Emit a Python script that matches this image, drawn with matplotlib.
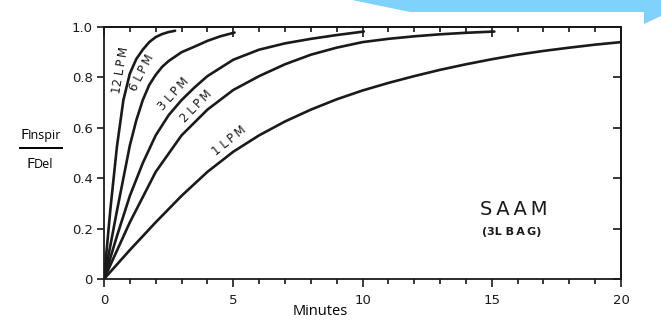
import numpy as np
import matplotlib
matplotlib.use("Agg")
import matplotlib.pyplot as plt
from matplotlib.ticker import MultipleLocator
from matplotlib.patches import Polygon
from matplotlib.lines import Line2D

# values (minutes, F_inspir / F_del)
T_12 = [0, 0.25, 0.5, 0.75, 1.0, 1.25, 1.5, 1.75, 2.0, 2.25, 2.5, 2.75]
V_12 = [0, 0.28, 0.525, 0.71, 0.815, 0.873, 0.91, 0.94, 0.96, 0.972, 0.98, 0.985]

T_6 = [0, 0.5, 1.0, 1.25, 1.5, 1.75, 2.0, 2.25, 2.5, 3.0, 3.5, 4.0, 4.5, 5.05]
V_6 = [0, 0.27, 0.53, 0.63, 0.71, 0.77, 0.81, 0.842, 0.865, 0.90, 0.922, 0.945,
       0.963, 0.978]

T_3 = [0, 0.5, 1, 1.5, 2, 2.5, 3, 3.5, 4, 5, 6, 7, 8, 9, 10.05]
V_3 = [0, 0.17, 0.33, 0.46, 0.57, 0.65, 0.71, 0.76, 0.805, 0.87, 0.91, 0.935,
       0.953, 0.968, 0.982]

T_2 = [0, 1, 2, 3, 4, 5, 6, 7, 8, 9, 10, 11, 12, 13, 14, 15.1]
V_2 = [0, 0.225, 0.425, 0.57, 0.672, 0.75, 0.805, 0.852, 0.89, 0.918, 0.94,
       0.953, 0.963, 0.971, 0.977, 0.982]

T_1 = [0, 1, 2, 3, 4, 5, 6, 7, 8, 9, 10, 11, 12, 13, 14, 15, 16, 17, 18, 19, 20]
V_1 = [0, 0.115, 0.225, 0.33, 0.425, 0.505, 0.57, 0.625, 0.672, 0.713, 0.748,
       0.778, 0.805, 0.83, 0.852, 0.872, 0.89, 0.905, 0.918, 0.93, 0.94]

SERIES = [(T_12, V_12), (T_6, V_6), (T_3, V_3), (T_2, V_2), (T_1, V_1)]

# curve labels: text, minutes, value, rotation
LABELS = [
    ("12 L\u2009P\u2009M", 0.66, 0.83, 80),
    ("6 L\u2009P\u2009M", 1.45, 0.82, 63),
    ("3 L\u2009P\u2009M", 2.68, 0.735, 48),
    ("2 L\u2009P\u2009M", 3.55, 0.685, 46),
    ("1 L\u2009P\u2009M", 4.85, 0.55, 39),
]

X_TICKS = [0, 5, 10, 15, 20]
Y_TICKS = [0, 0.2, 0.4, 0.6, 0.8, 1.0]
Y_TICKLABELS = ["0", "0.2", "0.4", "0.6", "0.8", "1.0"]

W, H = 661, 328
INK = "#1a1a1a"


def px(x, y):
    return x / W, 1 - y / H


fig = plt.figure(figsize=(W / 100, H / 100), dpi=100)

# slide template ribbon in the top right corner
ribbon = Polygon([px(352, 0), px(661, 0), px(661, 16), px(644, 24),
                  px(644, 12), px(410, 12)],
                 closed=True, transform=fig.transFigure,
                 facecolor="#7fd2fb", edgecolor="none", zorder=0)
fig.patches.append(ribbon)

ax = fig.add_axes([104 / W, 1 - 279 / H, (621 - 104) / W, (279 - 27) / H])
ax.set_xlim(0, 20)
ax.set_ylim(0, 1.0)

for t, v in SERIES:
    ax.plot(t, v, color=INK, linewidth=1.9, solid_capstyle="round",
            solid_joinstyle="round", zorder=3)

for text, t, v, rot in LABELS:
    ax.text(t, v, text, rotation=rot, rotation_mode="anchor",
            ha="center", va="center", fontsize=8.5, color=INK,
            family="DejaVu Sans")

for s in ax.spines.values():
    s.set_linewidth(1.3)
    s.set_color(INK)

ax.set_xticks(X_TICKS)
ax.set_xticklabels([str(x) for x in X_TICKS])
ax.xaxis.set_minor_locator(MultipleLocator(1))
ax.tick_params(axis="x", which="major", direction="out", length=6, width=1.2,
               pad=5, labelsize=9.5, colors=INK)
ax.tick_params(axis="x", which="minor", direction="out", length=3.6, width=1.1)

ax.set_yticks(Y_TICKS)
ax.set_yticklabels(Y_TICKLABELS)
ax.tick_params(axis="y", which="major", direction="out", length=5, width=1.2,
               pad=3, labelsize=9.5, colors=INK)

top = ax.secondary_xaxis("top")
top.set_xticks(X_TICKS)
top.xaxis.set_minor_locator(MultipleLocator(1))
top.tick_params(which="major", direction="in", length=7.5, width=1.1,
                labeltop=False)
top.tick_params(which="minor", direction="in", length=3.6, width=1.1)
top.spines["top"].set_linewidth(1.3)

right = ax.secondary_yaxis("right")
right.set_yticks(Y_TICKS)
right.tick_params(direction="in", length=5.8, width=1.1, labelright=False)
right.spines["right"].set_linewidth(1.3)

ax.text(15.86, 0.274, "S\u2009A\u2009A\u2009M", ha="center", va="center",
        fontsize=14, color=INK)
ax.text(15.78, 0.187, "(3L B\u2009A\u2009G)", ha="center", va="center",
        fontsize=8, fontweight="bold", color=INK)

# axis labels pasted over the scan
fig.text(*px(293, 315), "Minutes", fontsize=10.5, family="Open Sans",
         ha="left", va="baseline", color="black")
fig.text(*px(20, 139), "F", fontsize=11, family="Open Sans",
         ha="left", va="baseline", color="black")
fig.text(*px(28, 139), "Inspir", fontsize=9, family="Open Sans",
         ha="left", va="baseline", color="black")
fig.text(*px(26, 168), "F", fontsize=11, family="Open Sans",
         ha="left", va="baseline", color="black")
fig.text(*px(34, 168), "Del", fontsize=9, family="Open Sans",
         ha="left", va="baseline", color="black")
x0, y0 = px(20, 148)
x1, _ = px(62, 148)
fig.lines.append(Line2D([x0, x1], [y0, y0], transform=fig.transFigure,
                        color="black", linewidth=1.4))

fig.savefig("out.png", dpi=100)
